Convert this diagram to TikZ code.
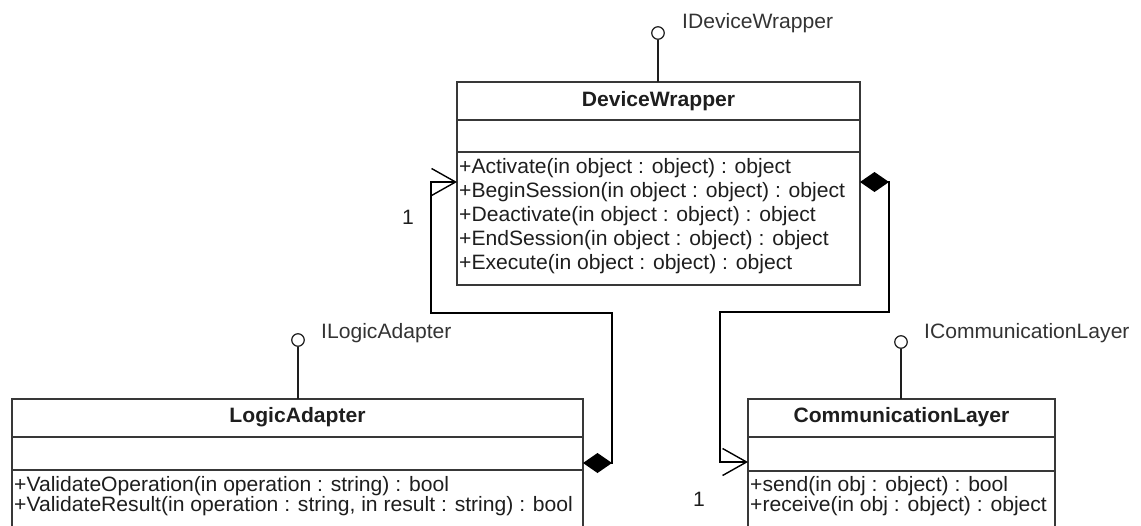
\documentclass[tikz,border=0pt]{standalone}
\usepackage{fontspec}
\setmainfont{Liberation Sans}[FakeStretch=1.015]
\usetikzlibrary{arrows.meta}
\definecolor{ink}{HTML}{1E1E1E}
\definecolor{boxline}{HTML}{383838}
\definecolor{labelink}{HTML}{333333}
\begin{document}
\begin{tikzpicture}[x=1pt,y=-1pt,
  every node/.style={font=\fontsize{20.8}{24}\selectfont},
  umlbox/.style={draw=boxline, line width=1.4pt, fill=white, inner sep=0pt, outer sep=0pt, anchor=north west},
  divider/.style={draw=boxline, line width=1.4pt},
  classtitle/.style={font=\fontsize{20.8}{24}\selectfont\bfseries, text=ink, inner sep=0pt},
  member/.style={anchor=west, text=ink, inner sep=0pt},
  iface/.style={circle, draw=ink, line width=1.2pt, minimum size=12.5pt, inner sep=0pt, fill=white},
  ifacelabel/.style={anchor=west, text=labelink, inner sep=0pt},
  lolli/.style={draw=ink, line width=1.4pt},
  mult/.style={text=ink, inner sep=0pt},
  assoc/.style={draw=black, line width=1.4pt,
    {Diamond[length=29pt,width=20pt]}-{Straight Barb[length=24pt,width=27pt]}}
]
\useasboundingbox (0,0) rectangle (1141,525);
\clip (0,0) rectangle (1141,525);

% ---------------- DeviceWrapper ----------------
\node[umlbox, minimum width=403pt, minimum height=203pt] (dw) at (457,82) {};
\draw[divider] (dw.west |- 0,120) -- (dw.east |- 0,120);
\draw[divider] (dw.west |- 0,152) -- (dw.east |- 0,152);
\node[classtitle] (dwt) at (658.5,101) {DeviceWrapper};
\node[member] (dwm1) at (459,168) {+Activate(in object : object) : object};
\node[member] (dwm2) at (459,192) {+BeginSession(in object : object) : object};
\node[member] (dwm3) at (459,216) {+Deactivate(in object : object) : object};
\node[member] (dwm4) at (459,240) {+EndSession(in object : object) : object};
\node[member] (dwm5) at (459,264) {+Execute(in object : object) : object};
\node[iface] (dwi) at (658,33) {};
\draw[lolli] (dwi) -- (dwi |- dw.north);
\node[ifacelabel] (dwil) at (682,23) {IDeviceWrapper};

% ---------------- LogicAdapter ----------------
\node[umlbox, minimum width=571pt, minimum height=140pt] (la) at (12,399) {};
\draw[divider] (la.west |- 0,437) -- (la.east |- 0,437);
\draw[divider] (la.west |- 0,470) -- (la.east |- 0,470);
\node[classtitle] (lat) at (297.5,417) {LogicAdapter};
\node[member] (lam1) at (14,486) {+ValidateOperation(in operation : string) : bool};
\node[member] (lam2) at (14,506) {+ValidateResult(in operation : string, in result : string) : bool};
\node[iface] (lai) at (298,340) {};
\draw[lolli] (lai) -- (lai |- la.north);
\node[ifacelabel] (lail) at (321,333) {ILogicAdapter};

% ---------------- CommunicationLayer ----------------
\node[umlbox, minimum width=307pt, minimum height=140pt] (cl) at (748,399) {};
\draw[divider] (cl.west |- 0,437) -- (cl.east |- 0,437);
\draw[divider] (cl.west |- 0,471) -- (cl.east |- 0,471);
\node[classtitle] (clt) at (901.5,417) {CommunicationLayer};
\node[member] (clm1) at (750,486) {+send(in obj : object) : bool};
\node[member] (clm2) at (750,506) {+receive(in obj : object) : object};
\node[iface] (cli) at (901,342) {};
\draw[lolli] (cli) -- (cli |- cl.north);
\node[ifacelabel] (clil) at (924,333) {ICommunicationLayer};

% ---------------- associations ----------------
\coordinate (laD) at (la.east |- 0,463);
\coordinate (dwA) at (dw.west |- 0,182);
\draw[assoc] (laD) -- (612,463) -- (612,313) -- (431,313) -- (431,182) -- (dwA);
\node[mult] (m1) at (408,217) {1};

\coordinate (dwD) at (dw.east |- 0,182);
\coordinate (clA) at (cl.west |- 0,462);
\draw[assoc] (dwD) -- (889,182) -- (889,312) -- (720,312) -- (720,462) -- (clA);
\node[mult] (m2) at (699,499) {1};
\end{tikzpicture}
\end{document}
